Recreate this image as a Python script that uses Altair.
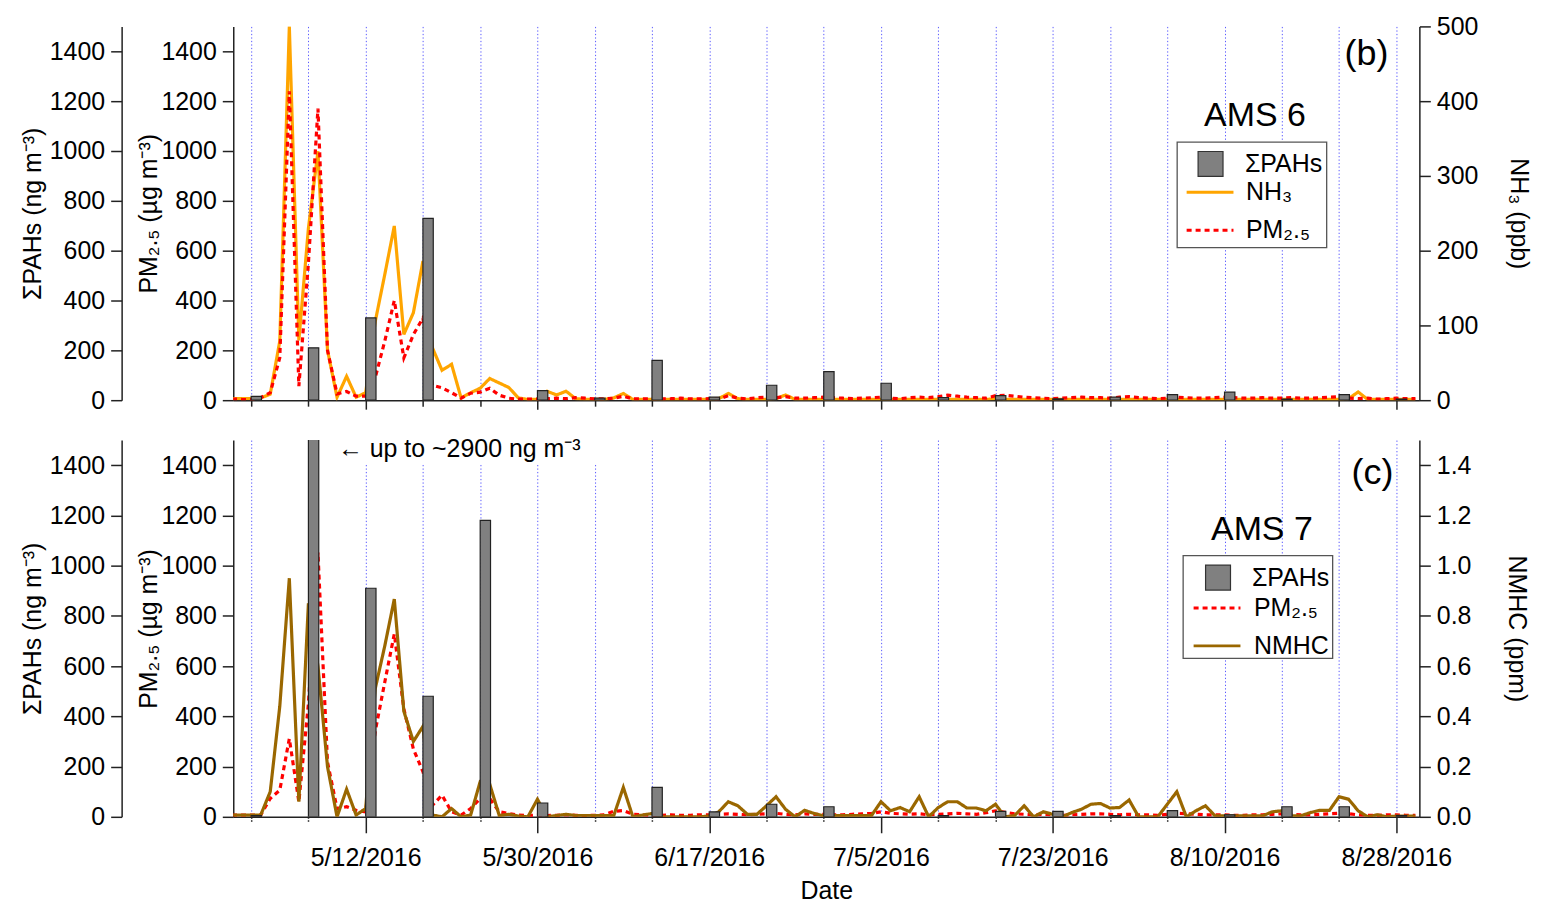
import altair as alt
import pandas as pd

FONT = "Liberation Sans"
START = pd.Timestamp("2016-04-28")

# ---- daily series, day 0 = 4/28/2016 ----
pm_b = [5, 3, 2, 10, 30, 170, 1240, 56, 550, 1170,
        200, 25, 35, 16, 16, 90, 237, 400, 170, 263,
        330, 60, 50, 30, 8, 28, 32, 48, 20, 8,
        4, 4, 5, 6, 8, 6, 10, 8, 5, 5,
        8, 16, 5, 5, 6, 5, 6, 8, 5, 5,
        6, 5, 18, 8, 5, 10, 12, 10, 14, 8,
        8, 10, 12, 10, 8, 6, 8, 10, 12, 8,
        6, 10, 12, 10, 14, 20, 16, 12, 10, 8,
        18, 20, 16, 12, 10, 8, 6, 8, 10, 12,
        10, 10, 8, 12, 14, 10, 8, 6, 8, 12,
        10, 8, 8, 10, 12, 10, 8, 8, 10, 8,
        8, 10, 8, 8, 10, 12, 14, 8, 6, 8,
        4, 6, 8, 6, 6]
nh3_b = [2, 2, 2, 3, 8, 79, 500, 80, 230, 333,
         67, 4, 32, 4, 10, 105, 168, 233, 88, 117,
         186, 70, 40, 48, 3, 10, 16, 29, 23, 17,
         3, 1, 1, 12, 7, 12, 2, 1, 1, 1,
         3, 9, 1, 1, 1, 1, 1, 1, 1, 1,
         1, 2, 9, 2, 1, 1, 1, 2, 7, 1,
         1, 1, 1, 1, 1, 1, 1, 1, 1, 1,
         1, 1, 1, 1, 1, 1, 1, 1, 1, 1,
         2, 1, 1, 1, 1, 1, 1, 1, 1, 1,
         1, 1, 1, 1, 1, 1, 1, 1, 1, 1,
         1, 1, 1, 1, 1, 1, 1, 1, 1, 1,
         1, 1, 1, 1, 1, 1, 1, 2, 11, 1,
         1, 1, 1, 1, 1]
pm_c = [7, 7, 7, 7, 73, 106, 311, 60, 450, 1052,
        218, 33, 40, 26, 20, 340, 536, 728, 430, 270,
        180, 46, 86, 20, 7, 33, 73, 73, 20, 13,
        7, 5, 7, 5, 6, 8, 6, 5, 6, 8,
        22, 25, 10, 8, 6, 6, 8, 6, 6, 8,
        8, 10, 12, 10, 8, 10, 12, 14, 10, 8,
        12, 10, 10, 8, 8, 10, 12, 14, 20, 14,
        12, 10, 12, 8, 10, 12, 14, 12, 10, 16,
        24, 18, 12, 10, 8, 10, 8, 6, 8, 10,
        12, 12, 10, 8, 10, 8, 8, 6, 10, 14,
        12, 10, 8, 8, 8, 6, 6, 8, 8, 10,
        12, 10, 8, 8, 10, 12, 14, 12, 8, 6,
        6, 8, 8, 6, 6]
nmhc_c = [0.007, 0.007, 0.007, 0.007, 0.1, 0.44, 0.95, 0.06, 0.85, 0.6,
          0.2, 0.0, 0.11, 0.007, 0.033, 0.51, 0.68, 0.867, 0.42, 0.3,
          0.36, 0.007, 0.0, 0.033, 0.0, 0.007, 0.14, 0.13, 0.005, 0.01,
          0.003, 0.0, 0.07, 0.0, 0.005, 0.01, 0.005, 0.005, 0.005, 0.005,
          0.005, 0.117, 0.0, 0.007, 0.013, 0.0, 0.0, 0.0, 0.0, 0.0,
          0.003, 0.02, 0.06, 0.044, 0.01, 0.01, 0.044, 0.08, 0.03, 0.0,
          0.026, 0.013, 0.004, 0.005, 0.005, 0.005, 0.005, 0.005, 0.06, 0.024,
          0.037, 0.02, 0.08, 0.0, 0.037, 0.06, 0.06, 0.035, 0.035, 0.024,
          0.05, 0.0, 0.005, 0.044, 0.0, 0.02, 0.01, 0.0, 0.017, 0.03,
          0.05, 0.053, 0.035, 0.037, 0.067, 0.0, 0.0, 0.0, 0.05, 0.1,
          0.0, 0.024, 0.044, 0.004, 0.004, 0.004, 0.004, 0.004, 0.004, 0.02,
          0.024, 0.004, 0.004, 0.017, 0.026, 0.026, 0.08, 0.07, 0.024, 0.0,
          0.008, 0.0, 0.003, 0.003, 0.003]

# ---- sampling days (also the 6-day grid) and ΣPAHs ----
bar_dates = ["2016-04-30", "2016-05-06", "2016-05-12", "2016-05-18", "2016-05-24",
             "2016-05-30", "2016-06-05", "2016-06-11", "2016-06-17", "2016-06-23",
             "2016-06-29", "2016-07-05", "2016-07-11", "2016-07-17", "2016-07-23",
             "2016-07-29", "2016-08-04", "2016-08-10", "2016-08-16", "2016-08-22",
             "2016-08-28"]
pah_b = [15, 210, 330, 730, None, 38, 8, 160, 12, 60, 115, 68, 10, 18, 5, 12, 22, 32, 4, 22, 4]
pah_c = [5, 2900, 910, 480, 1180, 55, None, 117, 20, 50, 40, None, 5, 22, 22, 5, 25, 8, 40, 40, 5]

left_ticks = [0, 200, 400, 600, 800, 1000, 1200, 1400]
nh3_ticks = [0, 100, 200, 300, 400, 500]
nmhc_ticks = [0, 0.2, 0.4, 0.6, 0.8, 1.0, 1.2, 1.4]


def day_str(i):
    return (START + pd.Timedelta(days=i)).strftime("%Y-%m-%d")


def daily_df(values, name):
    return pd.DataFrame({"date": [day_str(i) for i in range(len(values))],
                         "value": values, "series": name})


def bar_df(values):
    rows = []
    for d, v in zip(bar_dates, values):
        if v is None:
            continue
        d2 = (pd.Timestamp(d) + pd.Timedelta(hours=26)).strftime("%Y-%m-%dT%H:00:00Z")
        rows.append({"date": d, "date2": d2, "value": v, "series": "ΣPAHs"})
    return pd.DataFrame(rows)


def dt(s, hours=0):
    return alt.DateTime(year=int(s[:4]), month=int(s[5:7]), date=int(s[8:10]),
                        hours=hours, utc=True)


MAJOR = "(datum.value - utc(2016,4,12)) % 1555200000 === 0"
LABEL_EXPR = MAJOR + " ? utcFormat(datum.value, '%-m/%-d/%Y') : ''"

x_scale = alt.Scale(type="utc", nice=False,
                    domain=[dt("2016-04-28", 3), dt("2016-08-30", 10)])


def x_axis(show):
    kw = dict(values=[dt(s) for s in bar_dates], grid=True, gridColor="#5a5aff",
              gridDash=[1.3, 2.2], gridWidth=1, domainColor="#222", domainWidth=1.5,
              tickColor="#222", tickWidth=1.5, labelFlush=False, labelOverlap=False)
    if show:
        kw.update(tickSize={"condition": {"test": MAJOR, "value": 16}, "value": 6},
                  tickDash={"condition": {"test": MAJOR, "value": [1, 0]}, "value": [1.5, 1.5]},
                  labelExpr=LABEL_EXPR, labelPadding=13, title="Date", titlePadding=8)
    else:
        kw.update(tickSize={"condition": {"test": MAJOR, "value": 9}, "value": 6},
                  labels=False, title=None)
    return alt.Axis(**kw)


def y_axis(orient, title, values, title_x, offset=0, fmt="d"):
    kw = dict(orient=orient, title=title, values=values, grid=False, tickSize=11,
              tickWidth=1.5, tickColor="#222", domainColor="#222", domainWidth=1.5,
              labelPadding=6, titleX=title_x, titleBaseline="middle", format=fmt)
    if offset:
        kw["offset"] = offset
    return alt.Axis(**kw)


def bar_legend(lx, ly, lo):
    return alt.Legend(title=None, orient="none", legendX=lx, legendY=ly, padding=0,
                      symbolType="square", symbolSize=625, symbolStrokeColor="#333",
                      symbolStrokeWidth=1.2, labelOffset=lo, labelFontSize=25)


def line_legend(lx, ly, lo):
    return alt.Legend(title=None, orient="none", legendX=lx, legendY=ly, padding=0,
                      symbolType="stroke", symbolSize=2209, symbolStrokeWidth=3,
                      labelOffset=lo, rowPadding=-7, labelFontSize=25)


one = pd.DataFrame({"k": [0]})


def panel(show_x, line_a, line_b, bars, legends, box, texts, height, extra=None):
    xe = alt.X("date:T", scale=x_scale, axis=x_axis(show_x))
    dom = [line_a[1], line_b[1]]
    lleg = line_legend(*legends[1])
    color = alt.Color("series:N", scale=alt.Scale(domain=dom, range=[line_a[2], line_b[2]]),
                      legend=lleg)
    dash = alt.StrokeDash("series:N", scale=alt.Scale(domain=dom, range=[line_a[3], line_b[3]]),
                          legend=lleg)
    la = alt.Chart(line_a[0]).mark_line(strokeWidth=3.2, clip=True).encode(
        x=xe, y=alt.Y("value:Q", scale=alt.Scale(domain=line_a[4], nice=False), axis=line_a[5]),
        color=color, strokeDash=dash)
    lb = alt.Chart(line_b[0]).mark_line(strokeWidth=3.2, clip=True).encode(
        x=xe, y=alt.Y("value:Q", scale=alt.Scale(domain=line_b[4], nice=False), axis=line_b[5]),
        color=color, strokeDash=dash)
    br = alt.Chart(bars).mark_bar(stroke="#222", strokeWidth=1.2, clip=True).encode(
        x=xe, x2="date2:T",
        y=alt.Y("value:Q", scale=alt.Scale(domain=[0, 1500], nice=False),
                axis=y_axis("left", "ΣPAHs (ng m⁻³)", left_ticks, -89, offset=112)),
        y2=alt.datum(0),
        fill=alt.Fill("series:N", scale=alt.Scale(domain=["ΣPAHs"], range=["#808080"]),
                      legend=bar_legend(*legends[0])))
    bx = alt.Chart(one).mark_rect(fill="white", stroke="#555", strokeWidth=1.3).encode(
        x=alt.value(box[0]), x2=alt.value(box[1]), y=alt.value(box[2]), y2=alt.value(box[3]))
    layers = [la, lb, br, bx]
    if extra is not None:
        layers += extra
    for t, x, y, size, align in texts:
        layers.append(alt.Chart(one).mark_text(text=t, fontSize=size, align=align,
                                               baseline="middle", font=FONT, color="black")
                      .encode(x=alt.value(x), y=alt.value(y)))
    return alt.layer(*layers).resolve_scale(y="independent").properties(width=1190, height=height)


pm_axis_b = y_axis("left", "PM₂.₅ (µg m⁻³)", left_ticks, -85)
nh3_axis = y_axis("right", "NH₃ (ppb)", nh3_ticks, 99)
pm_axis_c = y_axis("left", "PM₂.₅ (µg m⁻³)", left_ticks, -85)
nmhc_axis = y_axis("right", "NMHC (ppm)", nmhc_ticks, 97, fmt=".1f")

top = panel(
    False,
    (daily_df(nh3_b, "NH₃"), "NH₃", "#FFA500", [1, 0], [0, 500], nh3_axis),
    (daily_df(pm_b, "PM₂.₅"), "PM₂.₅", "#FF0000", [5, 4], [0, 1500], pm_axis_b),
    bar_df(pah_b),
    [(967, 124.5, 21), (955, 141.5, 11)],
    (947, 1097, 116, 222),
    [("(b)", 1137, 28, 36, "center"), ("AMS 6", 1025, 90, 34, "center")],
    375)

ann_bg = alt.Chart(one).mark_rect(fill="white").encode(
    x=alt.value(105), x2=alt.value(365), y=alt.value(0), y2=alt.value(23))

bottom = panel(
    True,
    (daily_df(pm_c, "PM₂.₅"), "PM₂.₅", "#FF0000", [5, 4], [0, 1500], pm_axis_c),
    (daily_df(nmhc_c, "NMHC"), "NMHC", "#9A6700", [1, 0], [0, 1.5], nmhc_axis),
    bar_df(pah_c),
    [(974.5, 124.5, 20.5), (962, 143.5, 12)],
    (953, 1103, 116, 219),
    [("(c)", 1143, 33, 36, "center"), ("AMS 7", 1032, 90, 34, "center"),
     ("← up to ~2900 ng m⁻³", 105, 9, 25, "left")],
    378, extra=[ann_bg])

chart = alt.vconcat(top, bottom, spacing=24).resolve_scale(
    color="independent", strokeDash="independent", fill="independent"
).properties(
    padding={"left": 13, "top": 5, "right": 3, "bottom": 0}
).configure(font=FONT).configure_view(stroke=None).configure_axis(
    labelFont=FONT, titleFont=FONT, labelFontSize=25, titleFontSize=25,
    labelColor="black", titleColor="black", titleFontWeight="normal"
).configure_legend(labelFont=FONT, labelFontSize=25, labelColor="black")

chart.save("out.html", embed_options={"renderer": "svg", "actions": False})
